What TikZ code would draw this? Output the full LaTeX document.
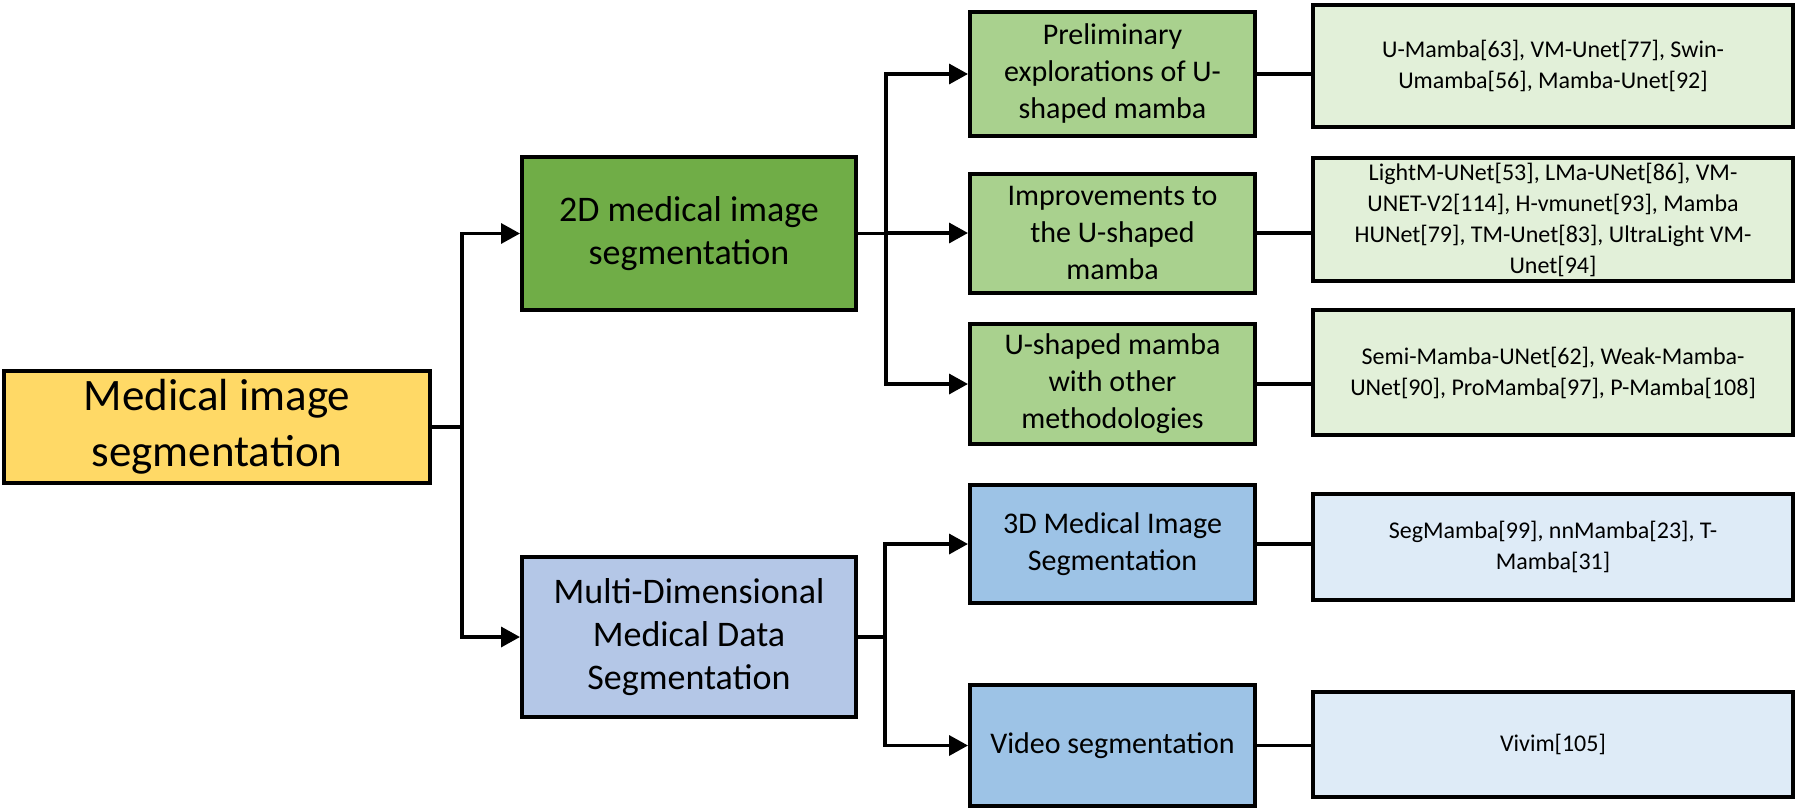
\documentclass[tikz,border=0pt]{standalone}
\usepackage{fontspec}
\setmainfont{Carlito}
\usetikzlibrary{arrows.meta}
\definecolor{L0}{HTML}{FFD966}
\definecolor{L1a}{HTML}{70AD47}
\definecolor{L1b}{HTML}{B4C7E7}
\definecolor{L2a}{HTML}{A9D18E}
\definecolor{L2b}{HTML}{9DC3E6}
\definecolor{L3a}{HTML}{E2F0D9}
\definecolor{L3b}{HTML}{DEEBF7}

\begin{document}
\begin{tikzpicture}[x=1pt, y=-1pt,
  box/.style={draw, line width=4pt, align=center, inner sep=0pt},
  link/.style={line width=3.5pt},
  arr/.style={line width=3.5pt, -{Triangle[length=19pt,width=20pt]}}]%
\useasboundingbox (0,0) rectangle (1797,811);%
% root
\node[box, minimum width=426pt, minimum height=112pt, fill=L0, font=\fontsize{45}{56}\selectfont] (root) at (217, 427) {Medical image\\segmentation};%
% first level
\node[box, minimum width=334pt, minimum height=153pt, fill=L1a, font=\fontsize{36}{43}\selectfont] (twoD) at (689, 233.5) {2D medical image\\segmentation};%
\node[box, minimum width=334pt, minimum height=160pt, fill=L1b, font=\fontsize{36}{43}\selectfont] (multi) at (689, 637) {Multi-Dimensional\\Medical Data\\Segmentation};%
% second level
\node[box, minimum width=285pt, minimum height=124pt, fill=L2a, font=\fontsize{30}{37}\selectfont] (prelim) at (1112.5, 74) {Preliminary\\explorations of U-\\shaped mamba};%
\node[box, minimum width=285pt, minimum height=119pt, fill=L2a, font=\fontsize{30}{37}\selectfont] (impr) at (1112.5, 233) {Improvements to\\the U-shaped\\mamba};%
\node[box, minimum width=285pt, minimum height=120pt, fill=L2a, font=\fontsize{30}{37}\selectfont] (uother) at (1112.5, 384) {U-shaped mamba\\with other\\methodologies};%
\node[box, minimum width=285pt, minimum height=118pt, fill=L2b, font=\fontsize{30}{37}\selectfont] (threeD) at (1112.5, 544) {3D Medical Image\\Segmentation};%
\node[box, minimum width=285pt, minimum height=121pt, fill=L2b, font=\fontsize{30}{37}\selectfont] (video) at (1112.5, 745.5) {Video segmentation};%
% third level
\node[box, minimum width=480pt, minimum height=122pt, fill=L3a, font=\fontsize{24}{31}\selectfont] (r1) at (1553, 66) {U-Mamba[63], VM-Unet[77], Swin-\\Umamba[56], Mamba-Unet[92]};%
\node[box, minimum width=480pt, minimum height=123pt, fill=L3a, font=\fontsize{24}{31}\selectfont] (r2) at (1553, 219.5) {LightM-UNet[53], LMa-UNet[86], VM-\\UNET-V2[114], H-vmunet[93], Mamba\\HUNet[79], TM-Unet[83], UltraLight VM-\\Unet[94]};%
\node[box, minimum width=480pt, minimum height=125pt, fill=L3a, font=\fontsize{24}{31}\selectfont] (r3) at (1553, 372.5) {Semi-Mamba-UNet[62], Weak-Mamba-\\UNet[90], ProMamba[97], P-Mamba[108]};%
\node[box, minimum width=480pt, minimum height=106pt, fill=L3b, font=\fontsize{24}{31}\selectfont] (r4) at (1553, 547) {SegMamba[99], nnMamba[23], T-\\Mamba[31]};%
\node[box, minimum width=480pt, minimum height=105pt, fill=L3b, font=\fontsize{24}{31}\selectfont] (r5) at (1553, 744.5) {Vivim[105]};%
% connectors
\draw[arr] (root.east) -- ++(30,0) |- (twoD.west);%
\draw[arr] (root.east) -- ++(30,0) |- (multi.west);%
\draw[arr] (twoD.east) -- ++(28,0) |- (prelim.west);%
\draw[arr] (twoD.east) -- ++(28,0) |- (impr.west);%
\draw[arr] (twoD.east) -- ++(28,0) |- (uother.west);%
\draw[arr] (multi.east) -- ++(27,0) |- (threeD.west);%
\draw[arr] (multi.east) -- ++(27,0) |- (video.west);%
\draw[link] (prelim.east) -- (prelim.east -| r1.west);%
\draw[link] (impr.east) -- (impr.east -| r2.west);%
\draw[link] (uother.east) -- (uother.east -| r3.west);%
\draw[link] (threeD.east) -- (threeD.east -| r4.west);%
\draw[link] (video.east) -- (video.east -| r5.west);%
\end{tikzpicture}
\end{document}
